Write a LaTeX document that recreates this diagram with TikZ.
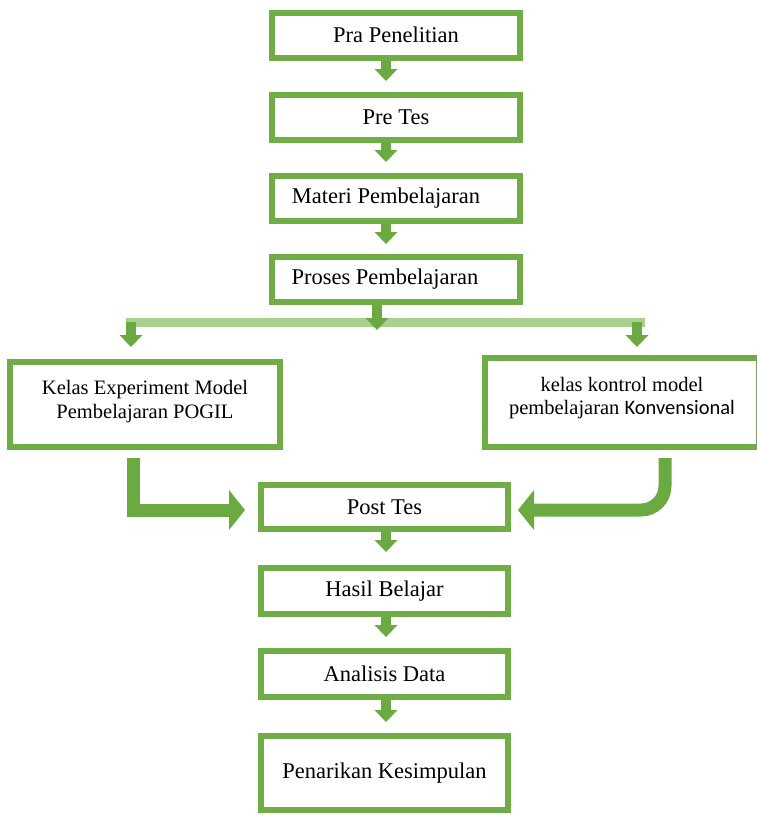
\documentclass[tikz,border=0pt]{standalone}
\usepackage{fontspec}
\setmainfont{Liberation Serif}
\newfontfamily\calib{Carlito}
\usetikzlibrary{arrows.meta}
\definecolor{gborder}{HTML}{70AD47}
\definecolor{gbar}{HTML}{A9D18E}
\definecolor{garrow}{HTML}{6AAA40}
\begin{document}
\begin{tikzpicture}[x=1pt,y=-1pt,
  box/.style={draw=gborder,line width=6pt,fill=white,minimum width=248pt,minimum height=45pt,inner sep=0pt,font=\fontsize{22.5}{26}\selectfont,align=center},
  bigbox/.style={box,font=\fontsize{20.5}{24}\selectfont},
  smallarrow/.style={draw=garrow,line width=10pt,-{Triangle[length=12pt,width=23pt,line width=0pt]}},
  bigarrow/.style={draw=garrow,line width=13pt,-{Triangle[length=16pt,width=40pt,line width=0pt]}}]
\useasboundingbox (0,0) rectangle (757,815);
\fill[white] (0,0) rectangle (757,815);
% upper chain
\node[box] (pra) at (396,35) {Pra Penelitian};
\node[box] (pre) at (396,117.5) {Pre Tes};
\node[box] (mat) at (396,198.5) {\hspace*{-20pt}Materi Pembelajaran};
\node[box] (pro) at (396,279.5) {\hspace*{-22pt}Proses Pembelajaran};
% classes
\node[bigbox,minimum width=270pt,minimum height=85pt] (kel) at (145,404.5) {Kelas Experiment Model\\Pembelajaran POGIL\\[-14pt]\mbox{}};
\node[bigbox,minimum width=274pt,minimum height=89pt,font=\fontsize{20.5}{22.5}\selectfont] (kon) at (622,402.5) {kelas kontrol model\\pembelajaran {\calib Konvensional}\\[-9pt]\mbox{}};
% lower chain
\node[box,minimum width=247pt,minimum height=44pt] (post) at (384.5,507) {Post Tes};
\node[box,minimum width=247pt,minimum height=46pt] (has) at (384.5,591) {Hasil Belajar};
\node[box,minimum width=247pt,minimum height=46pt] (ana) at (384.5,674) {Analisis Data};
\node[box,minimum width=247pt,minimum height=74pt] (pen) at (384.5,773) {Penarikan Kesimpulan};
% upper arrows
\draw[smallarrow] ([xshift=-10pt]pra.south) -- ([xshift=-10pt,yshift=11pt]pre.north);
\draw[smallarrow] ([xshift=-10pt]pre.south) -- ([xshift=-10pt,yshift=11pt]mat.north);
\draw[smallarrow] ([xshift=-10pt]mat.south) -- ([xshift=-10pt,yshift=10pt]pro.north);
% branching bar
\coordinate (bl) at (126,322);
\coordinate (br) at (645,322);
\draw[gbar,line width=9pt] (bl) -- (br);
\draw[smallarrow] ([xshift=-19pt]pro.south) -- ([xshift=-19pt,yshift=-25pt]pro.south);
\draw[smallarrow] ([xshift=5pt]bl) -- ([xshift=5pt,yshift=-25pt]bl);
\draw[smallarrow] ([xshift=-8pt]br) -- ([xshift=-8pt,yshift=-25pt]br);
% big arrows to Post Tes
\coordinate (tipL) at ([xshift=-13pt,yshift=-3pt]post.west);
\coordinate (tipR) at ([xshift=7pt,yshift=-3pt]post.east);
\draw[bigarrow] ([xshift=-12pt,yshift=-8pt]kel.south) |- (tipL);
\draw[bigarrow,rounded corners=24pt] ([xshift=43pt,yshift=-8pt]kon.south) |- (tipR);
% lower arrows
\draw[smallarrow] ([xshift=1.5pt]post.south) -- ([xshift=1.5pt,yshift=13pt]has.north);
\draw[smallarrow] ([xshift=1.5pt]has.south) -- ([xshift=1.5pt,yshift=11pt]ana.north);
\draw[smallarrow] ([xshift=1.5pt]ana.south) -- ([xshift=1.5pt,yshift=11pt]pen.north);
\end{tikzpicture}
\end{document}
